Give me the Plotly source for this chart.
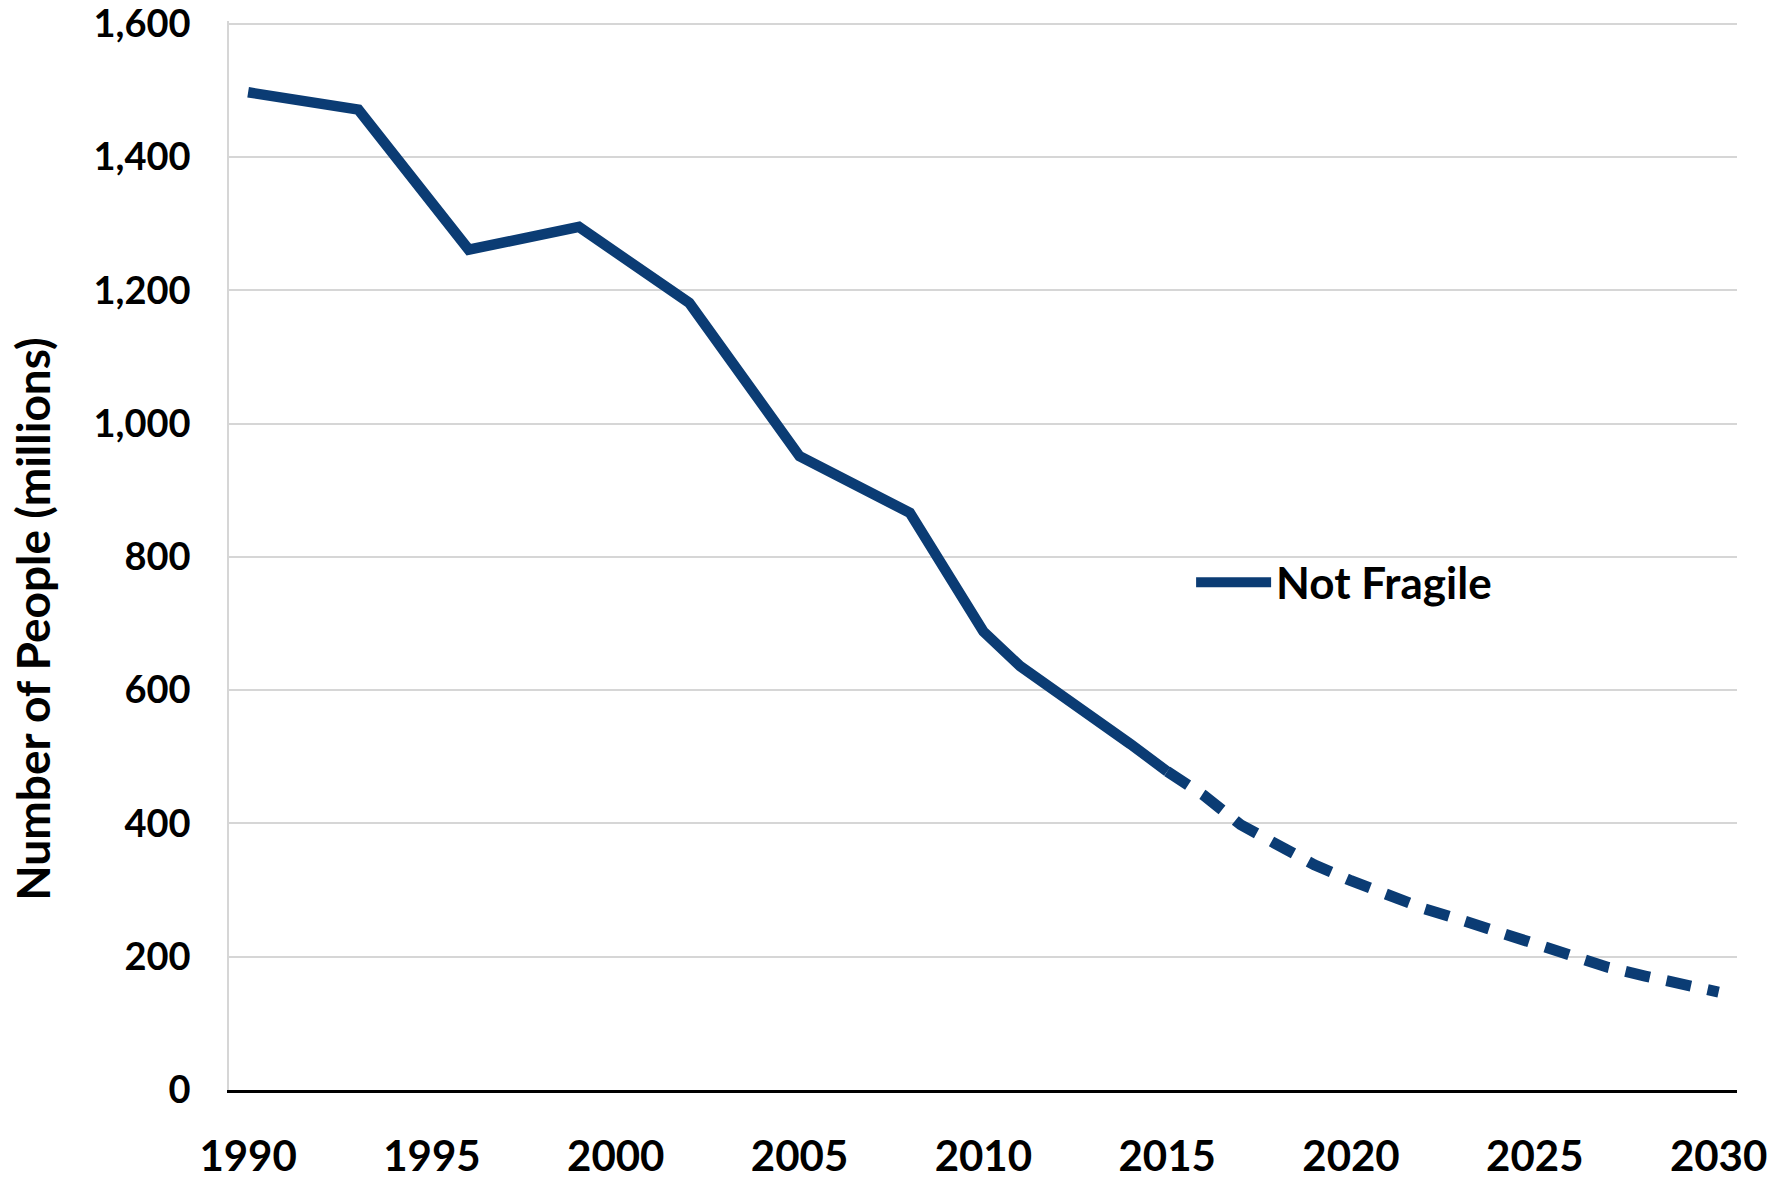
import plotly.graph_objects as go

# Historical (solid) series
hist_years = [1990, 1993, 1996, 1999, 2002, 2005, 2008, 2010, 2011, 2012, 2013, 2014, 2015]
hist_values = [1497, 1471, 1261, 1295, 1181, 951, 866, 688, 636, 598, 558, 519, 478]

# Projection (dashed) series
proj_years = [2015, 2016, 2017, 2018, 2019, 2020, 2021, 2022, 2023, 2024, 2025, 2026, 2027, 2028, 2029, 2030]
proj_values = [478, 442, 398, 366, 338, 314, 292, 272, 255, 237, 219, 200, 184, 171, 158, 147]

x_ticks = [1990, 1995, 2000, 2005, 2010, 2015, 2020, 2025, 2030]
y_ticks = [0, 200, 400, 600, 800, 1000, 1200, 1400, 1600]

series_name = "Not Fragile"
y_title = "Number of People (millions)"

NAVY = "#0b3c74"
FONT = "Lato"

fig = go.Figure()
fig.add_trace(go.Scatter(
    x=hist_years, y=hist_values, mode="lines", name=series_name,
    line=dict(color=NAVY, width=10.5), showlegend=True,
))
fig.add_trace(go.Scatter(
    x=proj_years, y=proj_values, mode="lines", name=series_name + " (projection)",
    line=dict(color=NAVY, width=11, dash="25px,17px"), showlegend=False,
))

fig.update_layout(
    template="none",
    width=1774, height=1182,
    margin=dict(l=229, r=37, t=21, b=92, autoexpand=False),
    paper_bgcolor="white", plot_bgcolor="white",
    font=dict(family=FONT, color="black"),
    showlegend=True,
    legend=dict(
        x=0.638, y=0.4746, xanchor="left", yanchor="middle",
        bgcolor="rgba(0,0,0,0)", itemwidth=75,
        font=dict(family=FONT, size=44, weight="bold", color="black"),
    ),
    xaxis=dict(
        range=[1989.48, 2030.5], tickvals=x_ticks, automargin=False,
        showgrid=False, zeroline=False,
        showline=True, linecolor="black", linewidth=2.5,
        ticks="", ticklabelstandoff=28, ticklabeloverflow="allow",
        tickfont=dict(family=FONT, size=42, weight="bold", color="black"),
    ),
    yaxis=dict(
        range=[0, 1604], tickvals=y_ticks, tickformat=",d", automargin=False,
        showgrid=True, gridcolor="#d6d6d6", gridwidth=1.5,
        zeroline=False, showline=True, linecolor="#d6d6d6", linewidth=1.5,
        ticks="", ticklabelstandoff=29, ticklabeloverflow="allow",
        tickfont=dict(family=FONT, size=38, weight="bold", color="black"),
    ),
    annotations=[dict(
        text=y_title, textangle=-90, xref="paper", yref="paper",
        x=-0.13, y=0.4409, xanchor="center", yanchor="middle", showarrow=False,
        font=dict(family=FONT, size=46, weight="bold", color="black"),
    )],
)

fig.write_html(
    "out.html",
    config={"displayModeBar": False},
    post_script="document.body.style.margin='0';document.body.style.overflow='hidden';",
)
